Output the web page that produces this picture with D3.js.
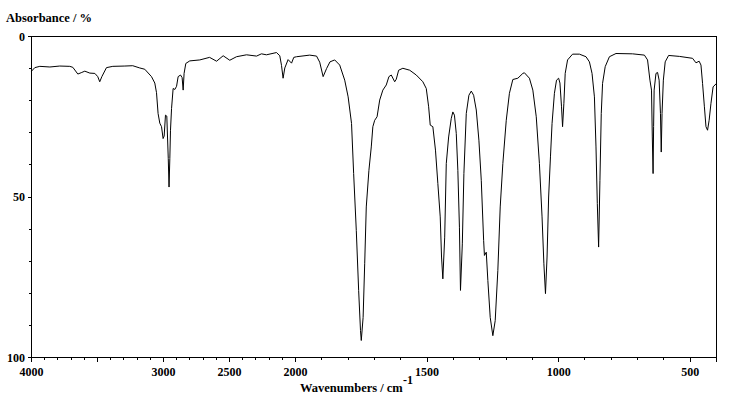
<!DOCTYPE html>
<html>
<head>
<meta charset="utf-8">
<script src="https://cdn.jsdelivr.net/npm/d3@7/dist/d3.min.js"></script>
<style>
  html, body { margin: 0; padding: 0; background: #fff; }
  svg { display: block; }
  text { font-family: "Liberation Serif", "Times New Roman", serif; font-weight: bold; font-size: 12px; fill: #000; }
  text.title { font-size: 12.5px; }
</style>
</head>
<body>
<svg id="chart" width="735" height="400"></svg>
<script>
// Wavenumbers (cm-1) and absorbance (%)
const wavenumbers = [4000,3975,3937,3861,3786,3710,3687,3649,3619,3596,3558,3520,3498,3483,3467,3432,3384,3293,3233,3180,3142,3091,3066,3053,3041,3028,3015,3003,2995,2985,2975,2964,2958,2952,2947,2939,2927,2914,2901,2889,2871,2859,2851,2844,2831,2801,2725,2651,2598,2548,2498,2447,2371,2295,2258,2220,2144,2119,2106,2094,2081,2056,2030,2013,1996,1946,1920,1908,1895,1882,1869,1851,1832,1813,1800,1787,1779,1769,1760,1753,1750,1743,1737,1731,1721,1712,1706,1699,1690,1680,1668,1655,1645,1636,1623,1617,1608,1592,1566,1541,1516,1503,1494,1488,1478,1468,1459,1450,1445,1440,1433,1427,1418,1408,1402,1396,1389,1383,1377,1373,1366,1360,1351,1341,1332,1323,1313,1303,1294,1285,1282,1275,1269,1260,1250,1241,1231,1222,1212,1199,1187,1174,1155,1136,1130,1111,1098,1085,1073,1063,1056,1050,1044,1038,1031,1025,1016,1008,1000,995,989,985,980,975,966,947,921,896,883,873,864,858,853,848,843,838,833,823,807,782,719,674,662,653,647,644,641,639,637,630,624,618,613,610,607,602,595,582,541,491,478,466,459,453,446,440,434,428,421,413,400];
const absorbance = [10.8,9.7,9.3,9.5,9.2,9.3,9.6,11.7,11.2,10.8,11.4,11.5,12.5,14.1,12.5,9.7,9.3,9.2,9.1,9.8,10.2,12.5,14.5,17.5,24,27,28.1,31.8,31,24.5,24.8,38,46.9,38,29.2,22.4,16.2,16.5,15.5,12.5,12,12.8,16.7,11.5,8.4,7.6,7.3,6.5,7.7,6.0,7.4,6.3,5.7,6.1,5.4,5.7,5.0,6.0,9,13,9.8,7.2,8.3,6.5,6.3,5.8,6.1,8,12.5,10,7.9,7.3,8.9,13.6,18.8,27.1,42.7,60.4,79.1,91.6,94.7,87.5,70.8,53.1,41.7,34.4,28.1,26.1,25,19.8,16.7,15.1,12.5,12,14.1,13.3,10.5,9.9,10.5,12,14.1,16.2,21.9,27.6,28.1,35.4,45.8,56.2,68.7,75.5,62.5,39.6,31.3,25.5,23.5,24.5,30.2,41.7,59.4,79.1,64.6,42.7,24,18.3,17,18.3,22.9,32.3,44.8,63.5,68.2,67.2,76,87.5,93.2,88.5,72.9,53.1,39.6,26.1,17.7,13.4,13,11.5,11.3,13,16.7,25,39.6,56.2,70.8,80.1,68.7,50,37.5,27.1,17.7,13.6,13,14.5,21.9,28.1,20.8,11.5,7.3,5.5,5.5,6.3,7.9,11.5,18.8,34.4,52,65.6,44.8,24,14.6,9.4,6.3,5.3,5.4,5.8,7.3,13.6,16.7,31.3,42.7,28,16.7,11.5,11.2,13.6,24,36,24,13.6,7.9,5.9,6.2,6.8,8.2,7.7,8.9,14.6,21.9,28.1,29.2,26.1,20.8,15.7,14.6];

const xTickLabels = [4000, 3000, 2500, 2000, 1500, 1000, 500];
const xMajorTicks = [4000, 3500, 3000, 2500, 2000, 1500, 1000, 500, 400];
const yTickLabels = [0, 50, 100];

(function () {
const svg = d3.select("#chart");
const mLeft = 31.5, mRight = 716.5, mTop = 36.5, mBottom = 357.5;

// Two-segment wavenumber scale: expanded 2x below 2000 cm-1
const x = d3.scaleLinear().domain([4000, 2000, 400]).range([mLeft, 295.5, mRight]);
const y = d3.scaleLinear().domain([0, 100]).range([mTop, mBottom]);

const minorX = d3.range(4000, 399, -100);
const minorY = d3.range(0, 101, 10);

const g = svg.append("g");

// frame
g.append("rect")
  .attr("x", mLeft).attr("y", mTop)
  .attr("width", mRight - mLeft).attr("height", mBottom - mTop)
  .attr("fill", "none").attr("stroke", "#000").attr("stroke-width", 1)
  .attr("shape-rendering", "crispEdges");

// x ticks
g.selectAll(".xt").data(minorX).enter().append("line")
  .attr("x1", d => Math.round(x(d) - 0.5) + 0.5).attr("x2", d => Math.round(x(d) - 0.5) + 0.5)
  .attr("y1", mBottom)
  .attr("y2", d => mBottom + (xMajorTicks.includes(d) ? 4 : 2.5))
  .attr("stroke", "#000").attr("shape-rendering", "crispEdges");

g.selectAll(".xl").data(xTickLabels).enter().append("text")
  .attr("x", d => x(d)).attr("y", 376)
  .attr("text-anchor", "middle").text(d => d);

// y ticks
g.selectAll(".yt").data(minorY).enter().append("line")
  .attr("x1", d => mLeft - (yTickLabels.includes(d) ? 4 : 3)).attr("x2", mLeft)
  .attr("y1", d => Math.round(y(d) - 0.5) + 0.5).attr("y2", d => Math.round(y(d) - 0.5) + 0.5)
  .attr("stroke", "#000").attr("shape-rendering", "crispEdges");

g.selectAll(".yl").data(yTickLabels).enter().append("text")
  .attr("x", 25).attr("y", d => y(d) + 4)
  .attr("text-anchor", "end").text(d => d);

// titles
svg.append("text").attr("class", "title").attr("x", 6).attr("y", 22).text("Absorbance / %");
svg.append("text").attr("class", "title").attr("x", 300).attr("y", 392).text("Wavenumbers / cm");
svg.append("text").attr("x", 403).attr("y", 384).text("-1");

// spectrum
const pts = wavenumbers.map((w, i) => [w, absorbance[i]]);
const line = d3.line().x(d => x(d[0])).y(d => y(d[1]));
g.append("path").datum(pts)
  .attr("d", line)
  .attr("fill", "none").attr("stroke", "#000").attr("stroke-width", 1);
})();
</script>
</body>
</html>
